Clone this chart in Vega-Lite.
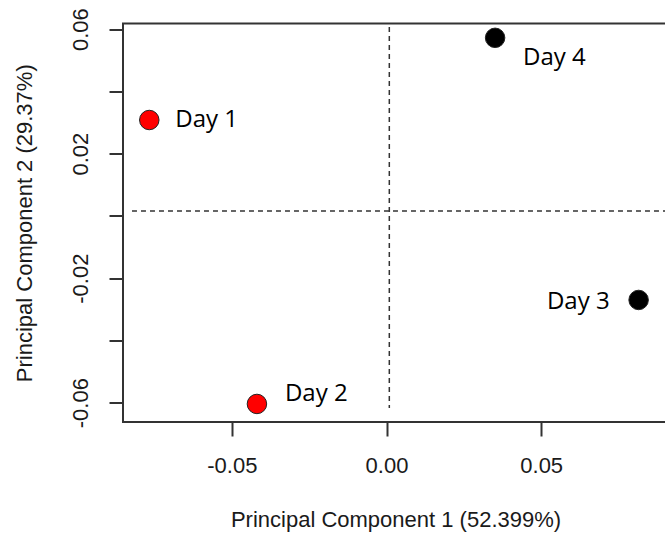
{
  "$schema": "https://vega.github.io/schema/vega-lite/v6.json",
  "width": 545,
  "height": 398.5,
  "autosize": {"type": "none"},
  "padding": {"left": 123, "top": 23.5, "right": 0, "bottom": 123},
  "background": "white",
  "config": {
    "view": {"stroke": "#333333", "strokeWidth": 2},
    "axis": {
      "domain": false,
      "grid": false,
      "tickSize": 14,
      "tickWidth": 2,
      "tickColor": "#333333",
      "labelFont": "Liberation Sans",
      "labelFontSize": 22,
      "labelColor": "#1a1a1a",
      "labelFlush": false,
      "labelOverlap": false,
      "titleFont": "Liberation Sans",
      "titleFontSize": 22,
      "titleFontWeight": "normal",
      "titleColor": "#1a1a1a"
    }
  },
  "datasets": {
    "pts": [
      {"label": "Day 1", "pc1": -0.0767, "pc2": 0.0308, "group": "A"},
      {"label": "Day 2", "pc1": -0.0419, "pc2": -0.0604, "group": "A"},
      {"label": "Day 3", "pc1": 0.0815, "pc2": -0.027, "group": "B"},
      {"label": "Day 4", "pc1": 0.0351, "pc2": 0.0572, "group": "B"}
    ],
    "hline": [{"pc1": -0.0823, "pc1b": 0.091, "pc2": 0.0016}],
    "vline": [{"pc1": 0.0009, "pc2": 0.0607, "pc2b": -0.0617}]
  },
  "encoding": {
    "x": {
      "field": "pc1", "type": "quantitative",
      "scale": {"domain": [-0.0852, 0.091], "nice": false, "zero": false},
      "axis": {
        "values": [-0.05, 0, 0.05],
        "labelExpr": "(datum.value < 0 ? '-' : '') + format(abs(datum.value), '.2f')",
        "title": "Principal Component 1 (52.399%)",
        "labelPadding": 19,
        "titlePadding": 33
      }
    },
    "y": {
      "field": "pc2", "type": "quantitative",
      "scale": {"domain": [-0.0662, 0.0618], "nice": false, "zero": false},
      "axis": {
        "values": [-0.06, -0.04, -0.02, 0, 0.02, 0.04, 0.06],
        "labelExpr": "abs(round(datum.value * 100)) % 4 == 2 ? ((datum.value < 0 ? '-' : '') + format(abs(datum.value), '.2f')) : ''",
        "labelAngle": -90,
        "labelAlign": "center",
        "labelBaseline": "bottom",
        "labelPadding": 17,
        "title": "Principal Component 2 (29.37%)",
        "titlePadding": 33
      }
    }
  },
  "layer": [
    {
      "data": {"name": "hline"},
      "mark": {"type": "rule", "strokeDash": [5, 4], "color": "#333333", "strokeWidth": 1.5},
      "encoding": {"x2": {"field": "pc1b"}}
    },
    {
      "data": {"name": "vline"},
      "mark": {"type": "rule", "strokeDash": [5, 4], "color": "#333333", "strokeWidth": 1.5},
      "encoding": {"y2": {"field": "pc2b"}}
    },
    {
      "data": {"name": "pts"},
      "mark": {"type": "point", "filled": true, "shape": "circle", "size": 380, "stroke": "#222222", "strokeWidth": 1, "opacity": 1},
      "encoding": {
        "fill": {"field": "group", "type": "nominal", "scale": {"domain": ["A", "B"], "range": ["#ff0000", "#000000"]}, "legend": null}
      }
    },
    {
      "data": {"name": "pts"},
      "transform": [{"filter": "datum.label == 'Day 1'"}],
      "mark": {"type": "text", "font": "Open Sans", "fontSize": 24, "align": "left", "baseline": "middle", "dx": 26, "dy": 0, "color": "#000000"},
      "encoding": {"text": {"field": "label"}}
    },
    {
      "data": {"name": "pts"},
      "transform": [{"filter": "datum.label == 'Day 2'"}],
      "mark": {"type": "text", "font": "Open Sans", "fontSize": 24, "align": "left", "baseline": "middle", "dx": 28, "dy": -10, "color": "#000000"},
      "encoding": {"text": {"field": "label"}}
    },
    {
      "data": {"name": "pts"},
      "transform": [{"filter": "datum.label == 'Day 3'"}],
      "mark": {"type": "text", "font": "Open Sans", "fontSize": 24, "align": "right", "baseline": "middle", "dx": -29, "dy": 2, "color": "#000000"},
      "encoding": {"text": {"field": "label"}}
    },
    {
      "data": {"name": "pts"},
      "transform": [{"filter": "datum.label == 'Day 4'"}],
      "mark": {"type": "text", "font": "Open Sans", "fontSize": 24, "align": "left", "baseline": "middle", "dx": 28, "dy": 20, "color": "#000000"},
      "encoding": {"text": {"field": "label"}}
    }
  ]
}
